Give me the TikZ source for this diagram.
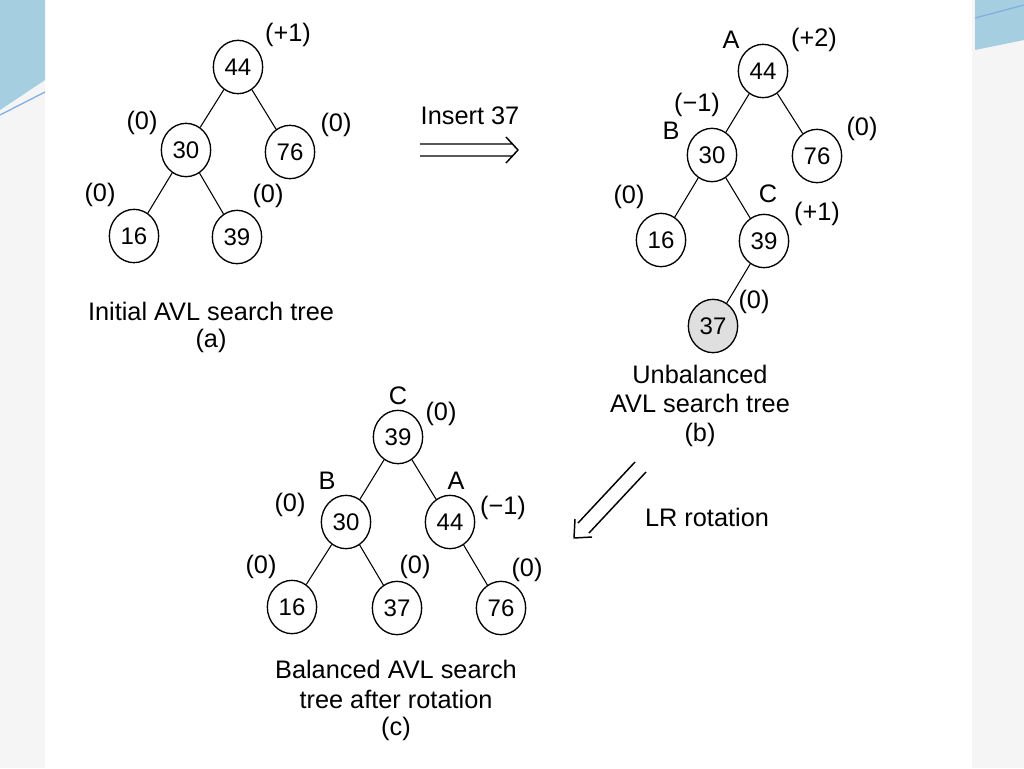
\documentclass[tikz,border=0pt]{standalone}
\usepackage{fontspec}
\setmainfont{Liberation Sans}
\usetikzlibrary{shapes.geometric}
\begin{document}
\begin{tikzpicture}[x=0.75pt,y=-0.75pt,
  nd/.style={ellipse,draw,line width=1pt,minimum width=37pt,minimum height=40pt,inner sep=0pt,font=\fontsize{18}{18}\selectfont},
  lb/.style={font=\fontsize{19}{19}\selectfont},
  ed/.style={line width=0.8pt},
  ar/.style={line width=1.1pt,line join=round}]
\useasboundingbox (0,0) rectangle (1024,768);
\fill[gray!8] (0,0) rectangle (1024,768);
\fill[white] (45,0) rectangle (972,768);
\fill[cyan!40!teal!40] (0,0) -- (45,0) -- (45,80) -- (0,110) -- cycle;
\draw[cyan!60!blue!50,line width=1pt] (0,115) -- (45,92);
\fill[cyan!40!teal!40] (975,0) -- (1024,0) -- (1024,40) -- (975,50) -- cycle;
\draw[cyan!60!blue!50,line width=1pt] (975,18) -- (1024,5);
% tree a
\node[nd] (a44) at (238,67) {44};
\node[nd] (a30) at (186,150) {30};
\node[nd] (a76) at (290,152) {76};
\node[nd] (a16) at (134,236) {16};
\node[nd] (a39) at (237,237) {39};
\draw[ed] (a44)--(a30) (a44)--(a76) (a30)--(a16) (a30)--(a39);
\node[lb] (la1) at (288,35) {(+1)};
\node[lb] (la2) at (142,123) {(0)};
\node[lb] (la3) at (336,125) {(0)};
\node[lb] (la4) at (100,195) {(0)};
\node[lb] (la5) at (268,196) {(0)};
\node[lb] (capa1) at (211,311) {Initial AVL search tree};
\node[lb] (capa2) at (211,341) {(a)};
% insert arrow
\node[lb] (ins) at (470,116) {Insert 37};
\coordinate (i1a) at (420,144); \coordinate (i1b) at (512,144);
\coordinate (i2a) at (420,156); \coordinate (i2b) at (512,156);
\coordinate (ih1) at (506,137); \coordinate (ih) at (518,150); \coordinate (ih2) at (506,163);
\draw[ar] (i1a)--(i1b) (i2a)--(i2b) (ih1)--(ih)--(ih2);
% tree b
\node[nd] (b44) at (763,71) {44};
\node[nd] (b30) at (712,155) {30};
\node[nd] (b76) at (817,156) {76};
\node[nd] (b16) at (661,240) {16};
\node[nd] (b39) at (764,241) {39};
\node[nd,fill=gray!25] (b37) at (713,326) {37};
\draw[ed] (b44)--(b30) (b44)--(b76) (b30)--(b16) (b30)--(b39) (b39)--(b37);
\node[lb] (lb1) at (731,40) {A};
\node[lb] (lb2) at (814,40) {(+2)};
\node[lb] (lb3) at (697,105) {(−1)};
\node[lb] (lb4) at (671,131) {B};
\node[lb] (lb5) at (862,129) {(0)};
\node[lb] (lb6) at (629,197) {(0)};
\node[lb] (lb7) at (768,194) {C};
\node[lb] (lb8) at (817,214) {(+1)};
\node[lb] (lb9) at (754,302) {(0)};
\node[lb] (capb1) at (700,374) {Unbalanced};
\node[lb] (capb2) at (700,403) {AVL search tree};
\node[lb] (capb3) at (700,435) {(b)};
% LR arrow
\coordinate (r1a) at (635,462); \coordinate (r1b) at (578,523);
\coordinate (r2a) at (646,472); \coordinate (r2b) at (589,533);
\coordinate (rh1) at (575,519); \coordinate (rh) at (574,538); \coordinate (rh2) at (592,537);
\draw[ar] (r1a)--(r1b) (r2a)--(r2b) (rh1)--(rh)--(rh2);
\node[lb] (lr) at (707,517) {LR rotation};
% tree c
\node[nd] (c39) at (398,437) {39};
\node[nd] (c30) at (346,522) {30};
\node[nd] (c44) at (450,522) {44};
\node[nd] (c16) at (292,607) {16};
\node[nd] (c37) at (397,608) {37};
\node[nd] (c76) at (501,608) {76};
\draw[ed] (c39)--(c30) (c39)--(c44) (c30)--(c16) (c30)--(c37) (c44)--(c76);
\node[lb] (lc1) at (398,396) {C};
\node[lb] (lc2) at (441,414) {(0)};
\node[lb] (lc3) at (327,481) {B};
\node[lb] (lc4) at (456,481) {A};
\node[lb] (lc5) at (290,505) {(0)};
\node[lb] (lc6) at (503,508) {(−1)};
\node[lb] (lc7) at (261,567) {(0)};
\node[lb] (lc8) at (415,567) {(0)};
\node[lb] (lc9) at (527,570) {(0)};
\node[lb] (capc1) at (396,669) {Balanced AVL search};
\node[lb] (capc2) at (396,699) {tree after rotation};
\node[lb] (capc3) at (396,729) {(c)};
\end{tikzpicture}
\end{document}
